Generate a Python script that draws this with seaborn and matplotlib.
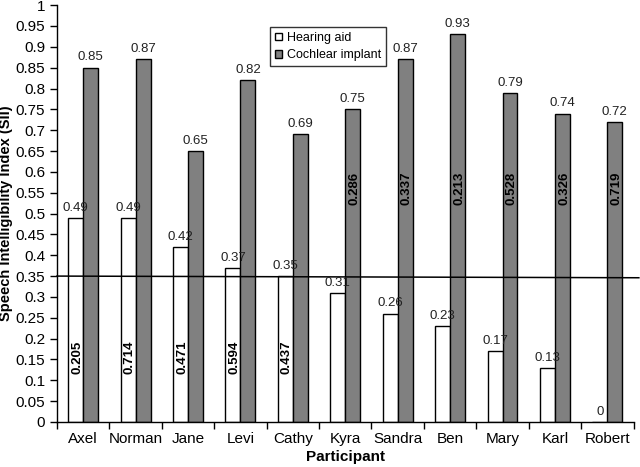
import matplotlib
matplotlib.use("Agg")
import matplotlib.pyplot as plt
import seaborn as sns
import pandas as pd
import numpy as np

# Datos
participants = ['Axel', 'Norman', 'Jane', 'Levi', 'Cathy', 'Kyra',
                'Sandra', 'Ben', 'Mary', 'Karl', 'Robert']
hearing_aid = [0.49, 0.49, 0.42, 0.37, 0.35, 0.31, 0.26, 0.23, 0.17, 0.13, 0.0]
cochlear = [0.85, 0.87, 0.65, 0.82, 0.69, 0.75, 0.87, 0.93, 0.79, 0.74, 0.72]
inner_labels = ['0.205', '0.714', '0.471', '0.594', '0.437', '0.286',
                '0.337', '0.213', '0.528', '0.326', '0.719']
# grupo en el que va la etiqueta interior (0 = audifono, 1 = implante)
inner_group = [0, 0, 0, 0, 0, 1, 1, 1, 1, 1, 1]
inner_y = [0.155, 0.155, 0.155, 0.155, 0.155, 0.56, 0.56, 0.56, 0.56, 0.56, 0.56]
ref_line = [0.35, 0.346]

plt.rcParams['font.family'] = ['Liberation Sans', 'DejaVu Sans']

df = pd.DataFrame({
    'Participant': participants * 2,
    'SII': hearing_aid + cochlear,
    'Device': ['Hearing aid'] * len(participants) + ['Cochlear implant'] * len(participants),
})

fig = plt.figure(figsize=(6.4, 4.67), dpi=100)
ax = fig.add_axes([0.089, 0.0964, 0.901, 0.8926])

sns.barplot(data=df, x='Participant', y='SII', hue='Device',
            palette={'Hearing aid': 'white', 'Cochlear implant': '#808080'},
            width=0.57, gap=0, edgecolor='black', linewidth=1.0,
            saturation=1, ax=ax, legend=True)

bw = 0.57 / 2
for i in range(len(participants)):
    xh = i - bw / 2
    xc = i + bw / 2
    ax.text(xh, hearing_aid[i] + 0.01, f'{hearing_aid[i]:g}', ha='center',
            va='bottom', fontsize=9.5, color='#222222')
    ax.text(xc, cochlear[i] + 0.01, f'{cochlear[i]:g}', ha='center',
            va='bottom', fontsize=9.5, color='#222222')
    xi = xh if inner_group[i] == 0 else xc
    ax.text(xi + 0.03, inner_y[i], inner_labels[i], rotation=90, ha='center',
            va='center', fontsize=9.5, fontweight='bold')

ax.plot([-0.5, 10.6], ref_line, color='black', lw=1.1, clip_on=False)

ax.set_xlim(-0.5, 10.5)
ax.set_ylim(0, 1)
ax.set_yticks(np.arange(0, 1.0001, 0.05))
ax.set_yticklabels([f'{v:g}' for v in np.arange(0, 1.0001, 0.05).round(2)])
ax.set_xticks(range(len(participants)))
ax.set_xticks(np.arange(-0.5, 11, 1), minor=True)
ax.tick_params(axis='x', which='major', length=0, labelsize=11, pad=7)
ax.tick_params(axis='x', which='minor', length=5, width=1)
ax.tick_params(axis='y', length=5, width=1, labelsize=11)

ax.set_xlabel('Participant', fontsize=11, fontweight='bold', labelpad=3)
ax.set_ylabel('Speech Intelligibility Index (SII)', fontsize=10.5, fontweight='bold')
ax.yaxis.set_label_coords(-0.076, 0.5)

for s in ['top', 'right']:
    ax.spines[s].set_visible(False)
for s in ['left', 'bottom']:
    ax.spines[s].set_linewidth(1)
    ax.spines[s].set_color('black')

leg = ax.legend(loc='upper left', bbox_to_anchor=(0.37, 0.948), frameon=True,
                fancybox=False, edgecolor='black', fontsize=9,
                handlelength=0.55, handleheight=0.55, handletextpad=0.4,
                borderpad=0.4, labelspacing=0.45, borderaxespad=0)
leg.get_frame().set_linewidth(1)

fig.savefig('out.png', dpi=100)
